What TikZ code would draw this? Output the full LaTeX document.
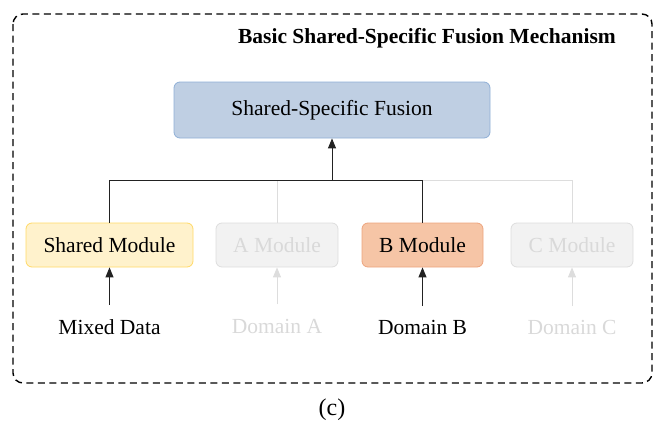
\documentclass[tikz,border=0pt]{standalone}
\usepackage{fontspec}
\setmainfont{Liberation Serif}
\usetikzlibrary{arrows.meta}
\definecolor{blueF}{HTML}{BFCFE3}
\definecolor{blueD}{HTML}{8FAFD6}
\definecolor{yelF}{HTML}{FFF2CC}
\definecolor{yelD}{HTML}{FFD966}
\definecolor{orF}{HTML}{F6C5A6}
\definecolor{orD}{HTML}{EDA47E}
\definecolor{grF}{HTML}{F2F2F2}
\definecolor{grD}{HTML}{DDDDDD}
\definecolor{grT}{HTML}{D9D9D9}
\definecolor{lineK}{HTML}{222222}
\tikzset{
  box/.style={draw, rounded corners=6pt, line width=0.8pt, minimum height=44pt, inner sep=0pt, font=\fontsize{21.5}{24}\selectfont},
  fusionbox/.style={box, fill=blueF, draw=blueD, minimum width=316pt, minimum height=56pt},
  sharedbox/.style={box, fill=yelF, draw=yelD, minimum width=167pt},
  bbox/.style={box, fill=orF, draw=orD, minimum width=121pt},
  graybox/.style={box, fill=grF, draw=grD, text=grT, minimum width=122pt},
  intext/.style={font=\fontsize{21.5}{24}\selectfont, inner sep=0pt},
  conn/.style={line width=1pt, draw=lineK},
  gconn/.style={line width=1pt, draw=grD},
  arr/.style={-{Triangle[length=10pt,width=8pt]}},
}
\begin{document}
\begin{tikzpicture}[x=1pt,y=-1pt]
\useasboundingbox (0,0) rectangle (665,434);
\draw[line width=1.4pt, dash pattern=on 7pt off 4.5pt, rounded corners=10pt] (13,14) rectangle (652,383);
\node[font=\bfseries\fontsize{21.5}{24}\selectfont, anchor=east, inner sep=0pt] (title) at (616,38) {Basic Shared-Specific Fusion Mechanism};
\node[fusionbox] (fusion) at (332,110) {Shared-Specific Fusion};
\node[sharedbox] (shared) at (109.5,245) {Shared Module};
\node[graybox] (amod) at (277,245) {A Module};
\node[bbox] (bmod) at (422.5,245) {B Module};
\node[graybox] (cmod) at (572,245) {C Module};
\coordinate (jn) at (332,180);
\coordinate (hs) at (109.5,180);
\coordinate (ha) at (277,180);
\coordinate (hb) at (422.5,180);
\coordinate (hc) at (572,180);
\node[intext] (mixed) at (109.5,327) {Mixed Data};
\node[intext, text=grT] (doma) at (277,326) {Domain A};
\node[intext] (domb) at (422.5,327) {Domain B};
\node[intext, text=grT] (domc) at (572,327) {Domain C};
\coordinate (ms) at (109.5,305);
\coordinate (ma) at (277,304);
\coordinate (mb) at (422.5,306);
\coordinate (mc) at (572,306);
% gray connectors first
\draw[gconn] (hb) -- (hc) -- (cmod.north);
\draw[gconn] (ha) -- (amod.north);
\draw[gconn, arr] (ma) -- (amod.south);
\draw[gconn, arr] (mc) -- (cmod.south);
% black connectors
\draw[conn] (shared.north) -- (hs) -- (hb) -- (bmod.north);
\draw[conn, arr] (jn) -- (fusion.south);
\draw[conn, arr] (ms) -- (shared.south);
\draw[conn, arr] (mb) -- (bmod.south);
\node[font=\fontsize{24}{26}\selectfont, inner sep=0pt] (cap) at (332,410) {(c)};
\end{tikzpicture}
\end{document}
